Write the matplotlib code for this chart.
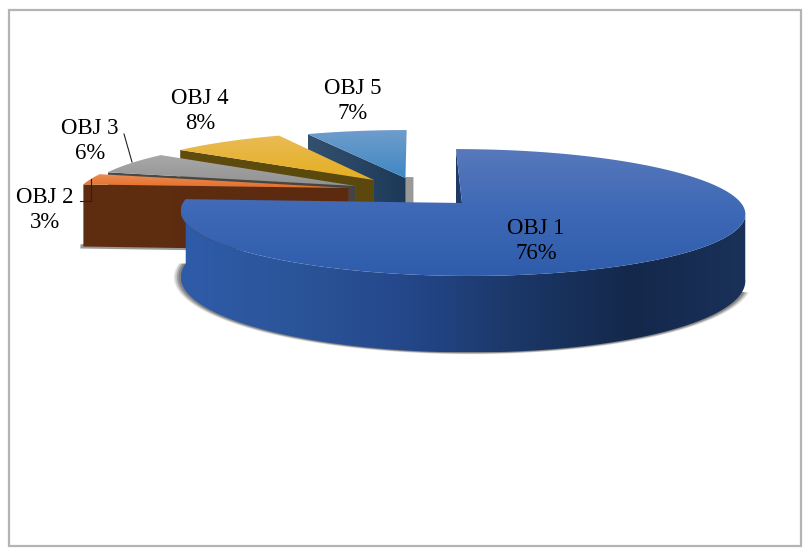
import numpy as np
import matplotlib
matplotlib.use("Agg")
import matplotlib.pyplot as plt
from matplotlib.colors import LinearSegmentedColormap
from matplotlib.patches import Polygon, Rectangle

names = ["OBJ 1", "OBJ 2", "OBJ 3", "OBJ 4", "OBJ 5"]
values = [76, 3, 6, 8, 7]

# how far each slice is pulled out of the pie, in pie radii
offsets = [(0.0, 0.0), (-0.415, 0.251), (-0.39, 0.286), (-0.325, 0.393), (-0.205, 0.429)]

top_colors = [["#5878bb", "#3d68b6", "#2f5dab"], ["#ea8c55", "#e56f27"], ["#a8a8a8", "#929292"],
              ["#e9bb55", "#e6ae1f"], ["#6f9dcc", "#3f87c3"]]
cut_colors = [["#1f3864", "#1f3864"], ["#5f2d10", "#5c2a0f"], ["#4a4a4a", "#444444"],
              ["#5f4c0e", "#5a480c"], ["#34506f", "#1c3a58"]]
wall_colors = ["#2f5ca9", "#2b5599", "#24478a", "#1b3767", "#14284b", "#1a3159"]
label_pos = [(536, 241), (45, 210), (90, 141), (200, 111), (353, 101)]

CX, CY = 462, 203
RX, RY = 279, 62
PERSP = 0.15
SHEAR = -7
DEPTH = 65


def project(u, v, h=0, grow=1.0):
    s = 1 / (1 + PERSP * v)
    x = CX + grow * RX * u * s + SHEAR * v * s
    y = CY - grow * RY * v * s + h * s
    return x, y


def arc(off, a0, a1, h=0, grow=1.0):
    t = np.radians(np.linspace(a0, a1, 160))
    x, y = project(off[0] + np.cos(t), off[1] + np.sin(t), h, grow)
    return np.column_stack([x, y])


def gradient_fill(ax, pts, colors, horizontal=False, zorder=2):
    cmap = LinearSegmentedColormap.from_list("g", colors)
    x0, y0 = pts.min(axis=0)
    x1, y1 = pts.max(axis=0)
    ramp = np.linspace(0, 1, 256)
    ramp = ramp[None, :] if horizontal else ramp[:, None]
    im = ax.imshow(ramp, cmap=cmap, extent=(x0, x1, y1, y0), aspect="auto",
                   interpolation="bilinear", zorder=zorder)
    im.set_clip_path(Polygon(pts, closed=True, transform=ax.transData))


fig = plt.figure(figsize=(8.08, 5.54), dpi=100)
ax = fig.add_axes([0, 0, 1, 1])
ax.axis("off")

ax.add_patch(Rectangle((8.5, 9.5), 792, 536, fill=False, edgecolor="#b4b4b4", linewidth=1.6))

# slice angles, clockwise from twelve o'clock
edges = 90 - 3.6 * np.cumsum([0] + values)
z = 2
for i in [4, 3, 2, 1, 0]:
    start, end = edges[i], edges[i + 1]
    off = offsets[i]
    apex = np.array(project(off[0], off[1]))
    apex_low = np.array(project(off[0], off[1], DEPTH))

    if i == 0:
        # soft shadow under the big slice
        for grow, alpha in [(1.025, 0.12), (1.02, 0.2), (1.014, 0.3), (1.008, 0.35)]:
            low = arc(off, end, end + 165, DEPTH, grow)
            ax.add_patch(Polygon(low, closed=True, facecolor="#4a4a4a", edgecolor="none",
                                 alpha=alpha, zorder=z))
        z += 1
        tip = np.array(project(off[0], off[1] + 1))
        tip_low = np.array(project(off[0], off[1] + 1, DEPTH))
        cut = np.array([tip, apex, apex_low, tip_low])
        gradient_fill(ax, cut, cut_colors[i], zorder=z)
        z += 1
        # outer wall runs round the front of the pie, up to where it turns away
        up = arc(off, end, end + 175)
        down = arc(off, end, end + 175, DEPTH)
        gradient_fill(ax, np.vstack([up, down[::-1]]), wall_colors, horizontal=True, zorder=z)
        z += 1
    else:
        # the cut face we can see is on the lower radial edge
        c = np.radians(start)
        rim = np.array(project(off[0] + np.cos(c), off[1] + np.sin(c)))
        rim_low = np.array(project(off[0] + np.cos(c), off[1] + np.sin(c), DEPTH))
        # small drop shadow below the slice, only the last one shows beside it
        side = 8 if i == 4 else 0
        ax.add_patch(Polygon([rim_low + (-3, -2), rim_low + (-3, 2), apex_low + (side, 2), apex_low + (side, -62),
                              apex_low + (0, -62)],
                             closed=True, facecolor="#777777", edgecolor="none", alpha=0.75, zorder=z))
        z += 1
        cut = np.array([rim, apex, apex_low, rim_low])
        gradient_fill(ax, cut, cut_colors[i], horizontal=True, zorder=z)
        z += 1

    face = np.vstack([[apex], arc(off, start, end)])
    gradient_fill(ax, face, top_colors[i], zorder=z)
    z += 1

# leader lines
ax.plot([124, 132], [134, 162], color="#222222", lw=0.8, zorder=z)
ax.plot([80, 90.5, 90.5], [200.5, 200.5, 179], color="#222222", lw=0.8, zorder=z)

for name, val, pos in zip(names, values, label_pos):
    ax.text(pos[0], pos[1], f"{name}\n{val}%", ha="center", va="center", fontsize=16.4,
            family="Liberation Serif", color="black", linespacing=1.27, zorder=z + 1)

ax.set_xlim(0, 808)
ax.set_ylim(554, 0)
fig.savefig("out.png", dpi=100, facecolor="white")
